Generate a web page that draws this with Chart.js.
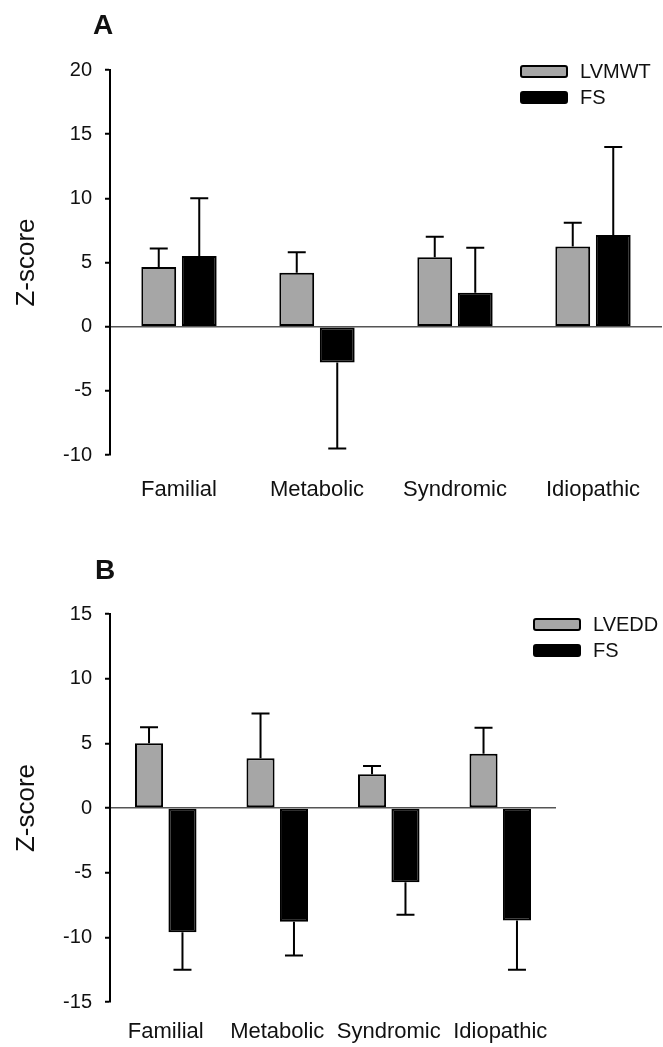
<!DOCTYPE html>
<html>
<head>
<meta charset="utf-8">
<script src="https://cdn.jsdelivr.net/npm/chart.js@4/dist/chart.umd.min.js"></script>
<style>
  body { margin: 0; background: #fff; font-family: "Liberation Sans", Arial, sans-serif; color: #111; }
  #page { position: relative; width: 663px; height: 1047px; overflow: hidden; }
  .panel { position: absolute; left: 0; width: 663px; }
  .letter { position: absolute; font-weight: bold; font-size: 28px; line-height: 28px; }
  .legend { position: absolute; font-size: 20px; line-height: 26px; }
  .legend div { display: flex; align-items: center; height: 26px; }
  .legend span.box { display: inline-block; width: 44px; height: 9px; border: 2px solid #000; border-radius: 3px; margin-right: 12px; }
</style>
</head>
<body>
<div id="page">
  <div class="panel" style="top:0;height:510px"><canvas id="chartA"></canvas></div>
  <div class="panel" style="top:510px;height:537px"><canvas id="chartB"></canvas></div>
  <div class="letter" style="left:93px;top:11px">A</div>
  <div class="letter" style="left:95px;top:556px">B</div>
  <div class="legend" id="legendA" style="left:520px;top:58px"></div>
  <div class="legend" id="legendB" style="left:533px;top:611px"></div>
</div>
<script>
// categories
var categories = ['Familial', 'Metabolic', 'Syndromic', 'Idiopathic'];

// panel A: means and error bar ends
var lvmwt    = [4.65, 4.2, 5.4, 6.25];
var lvmwtErr = [6.1, 5.8, 7.0, 8.1];
var fsA      = [5.5, -2.8, 2.65, 7.15];
var fsAErr   = [10.0, -9.5, 6.15, 14.0];
var ticksA   = [-10, -5, 0, 5, 10, 15, 20];

// panel B
var lvedd    = [5.0, 3.85, 2.6, 4.2];
var lveddErr = [6.25, 7.3, 3.25, 6.2];
var fsB      = [-9.6, -8.8, -5.75, -8.7];
var fsBErr   = [-12.5, -11.4, -8.25, -12.5];
var ticksB   = [-15, -10, -5, 0, 5, 10, 15];

var GRAY = '#a6a6a6';
var FONT = "'Liberation Sans', Arial, sans-serif";

// one-sided error bars, drawn from the bar end to errEnd
var errorBars = {
  id: 'errorBars',
  afterDatasetsDraw: function(chart) {
    var ctx = chart.ctx, y = chart.scales.y;
    ctx.save();
    ctx.strokeStyle = '#000';
    ctx.lineWidth = 2;
    chart.data.datasets.forEach(function(ds, i) {
      var meta = chart.getDatasetMeta(i);
      meta.data.forEach(function(bar, j) {
        var end = y.getPixelForValue(ds.errEnd[j]);
        ctx.beginPath();
        ctx.moveTo(bar.x, bar.y);
        ctx.lineTo(bar.x, end);
        ctx.moveTo(bar.x - 9, end);
        ctx.lineTo(bar.x + 9, end);
        ctx.stroke();
      });
    });
    ctx.restore();
  }
};

function makeChart(id, legendId, names, means, errs, ticks, opt) {
  var datasets = [{
    label: names[0], data: means[0], errEnd: errs[0],
    backgroundColor: GRAY, borderColor: '#000', borderWidth: 2, borderSkipped: false
  }, {
    label: names[1], data: means[1], errEnd: errs[1],
    backgroundColor: '#000', borderColor: '#000', borderWidth: 2, borderSkipped: false
  }];

  var chart = new Chart(document.getElementById(id), {
    type: 'bar',
    data: { labels: categories, datasets: datasets },
    plugins: [errorBars],
    options: {
      responsive: true,
      maintainAspectRatio: false,
      animation: false,
      categoryPercentage: opt.cp,
      barPercentage: opt.bp,
      layout: { padding: { top: opt.top, right: opt.right, left: 0, bottom: 0 } },
      plugins: { legend: { display: false }, tooltip: { enabled: false } },
      scales: {
        x: {
          grid: { display: false },
          border: { display: false },
          ticks: { color: '#111', font: { family: FONT, size: 22 }, padding: opt.xpad, maxRotation: 0 },
          afterFit: function(s) { s.height = opt.xh; }
        },
        y: {
          min: ticks[0], max: ticks[ticks.length - 1],
          afterBuildTicks: function(s) { s.ticks = ticks.map(function(v) { return { value: v }; }); },
          border: { display: true, color: '#000', width: 2 },
          grid: {
            color: function(c) { return c.tick && c.tick.value === 0 ? '#555' : 'rgba(0,0,0,0)'; },
            lineWidth: 1.5,
            tickColor: '#000',
            tickWidth: 2,
            tickLength: 5
          },
          ticks: { color: '#111', font: { family: FONT, size: 20 }, padding: 13 },
          title: {
            display: true, text: 'Z-score', color: '#111',
            font: { family: FONT, size: 26 }, padding: { top: 11, bottom: 0 }
          },
          afterFit: function(s) { s.width = 110; }
        }
      }
    }
  });

  // legend built from the datasets
  var lg = document.getElementById(legendId);
  datasets.forEach(function(ds) {
    var row = document.createElement('div');
    var box = document.createElement('span');
    box.className = 'box';
    box.style.background = ds.backgroundColor;
    row.appendChild(box);
    row.appendChild(document.createTextNode(ds.label));
    lg.appendChild(row);
  });
  return chart;
}

makeChart('chartA', 'legendA', ['LVMWT', 'FS'], [lvmwt, fsA], [lvmwtErr, fsAErr], ticksA,
  { cp: 0.587, bp: 0.86, top: 70, right: 1, xh: 55, xpad: 14 });
makeChart('chartB', 'legendB', ['LVEDD', 'FS'], [lvedd, fsB], [lveddErr, fsBErr], ticksB,
  { cp: 0.6, bp: 0.84, top: 104, right: 107, xh: 45, xpad: 9 });
</script>
</body>
</html>
